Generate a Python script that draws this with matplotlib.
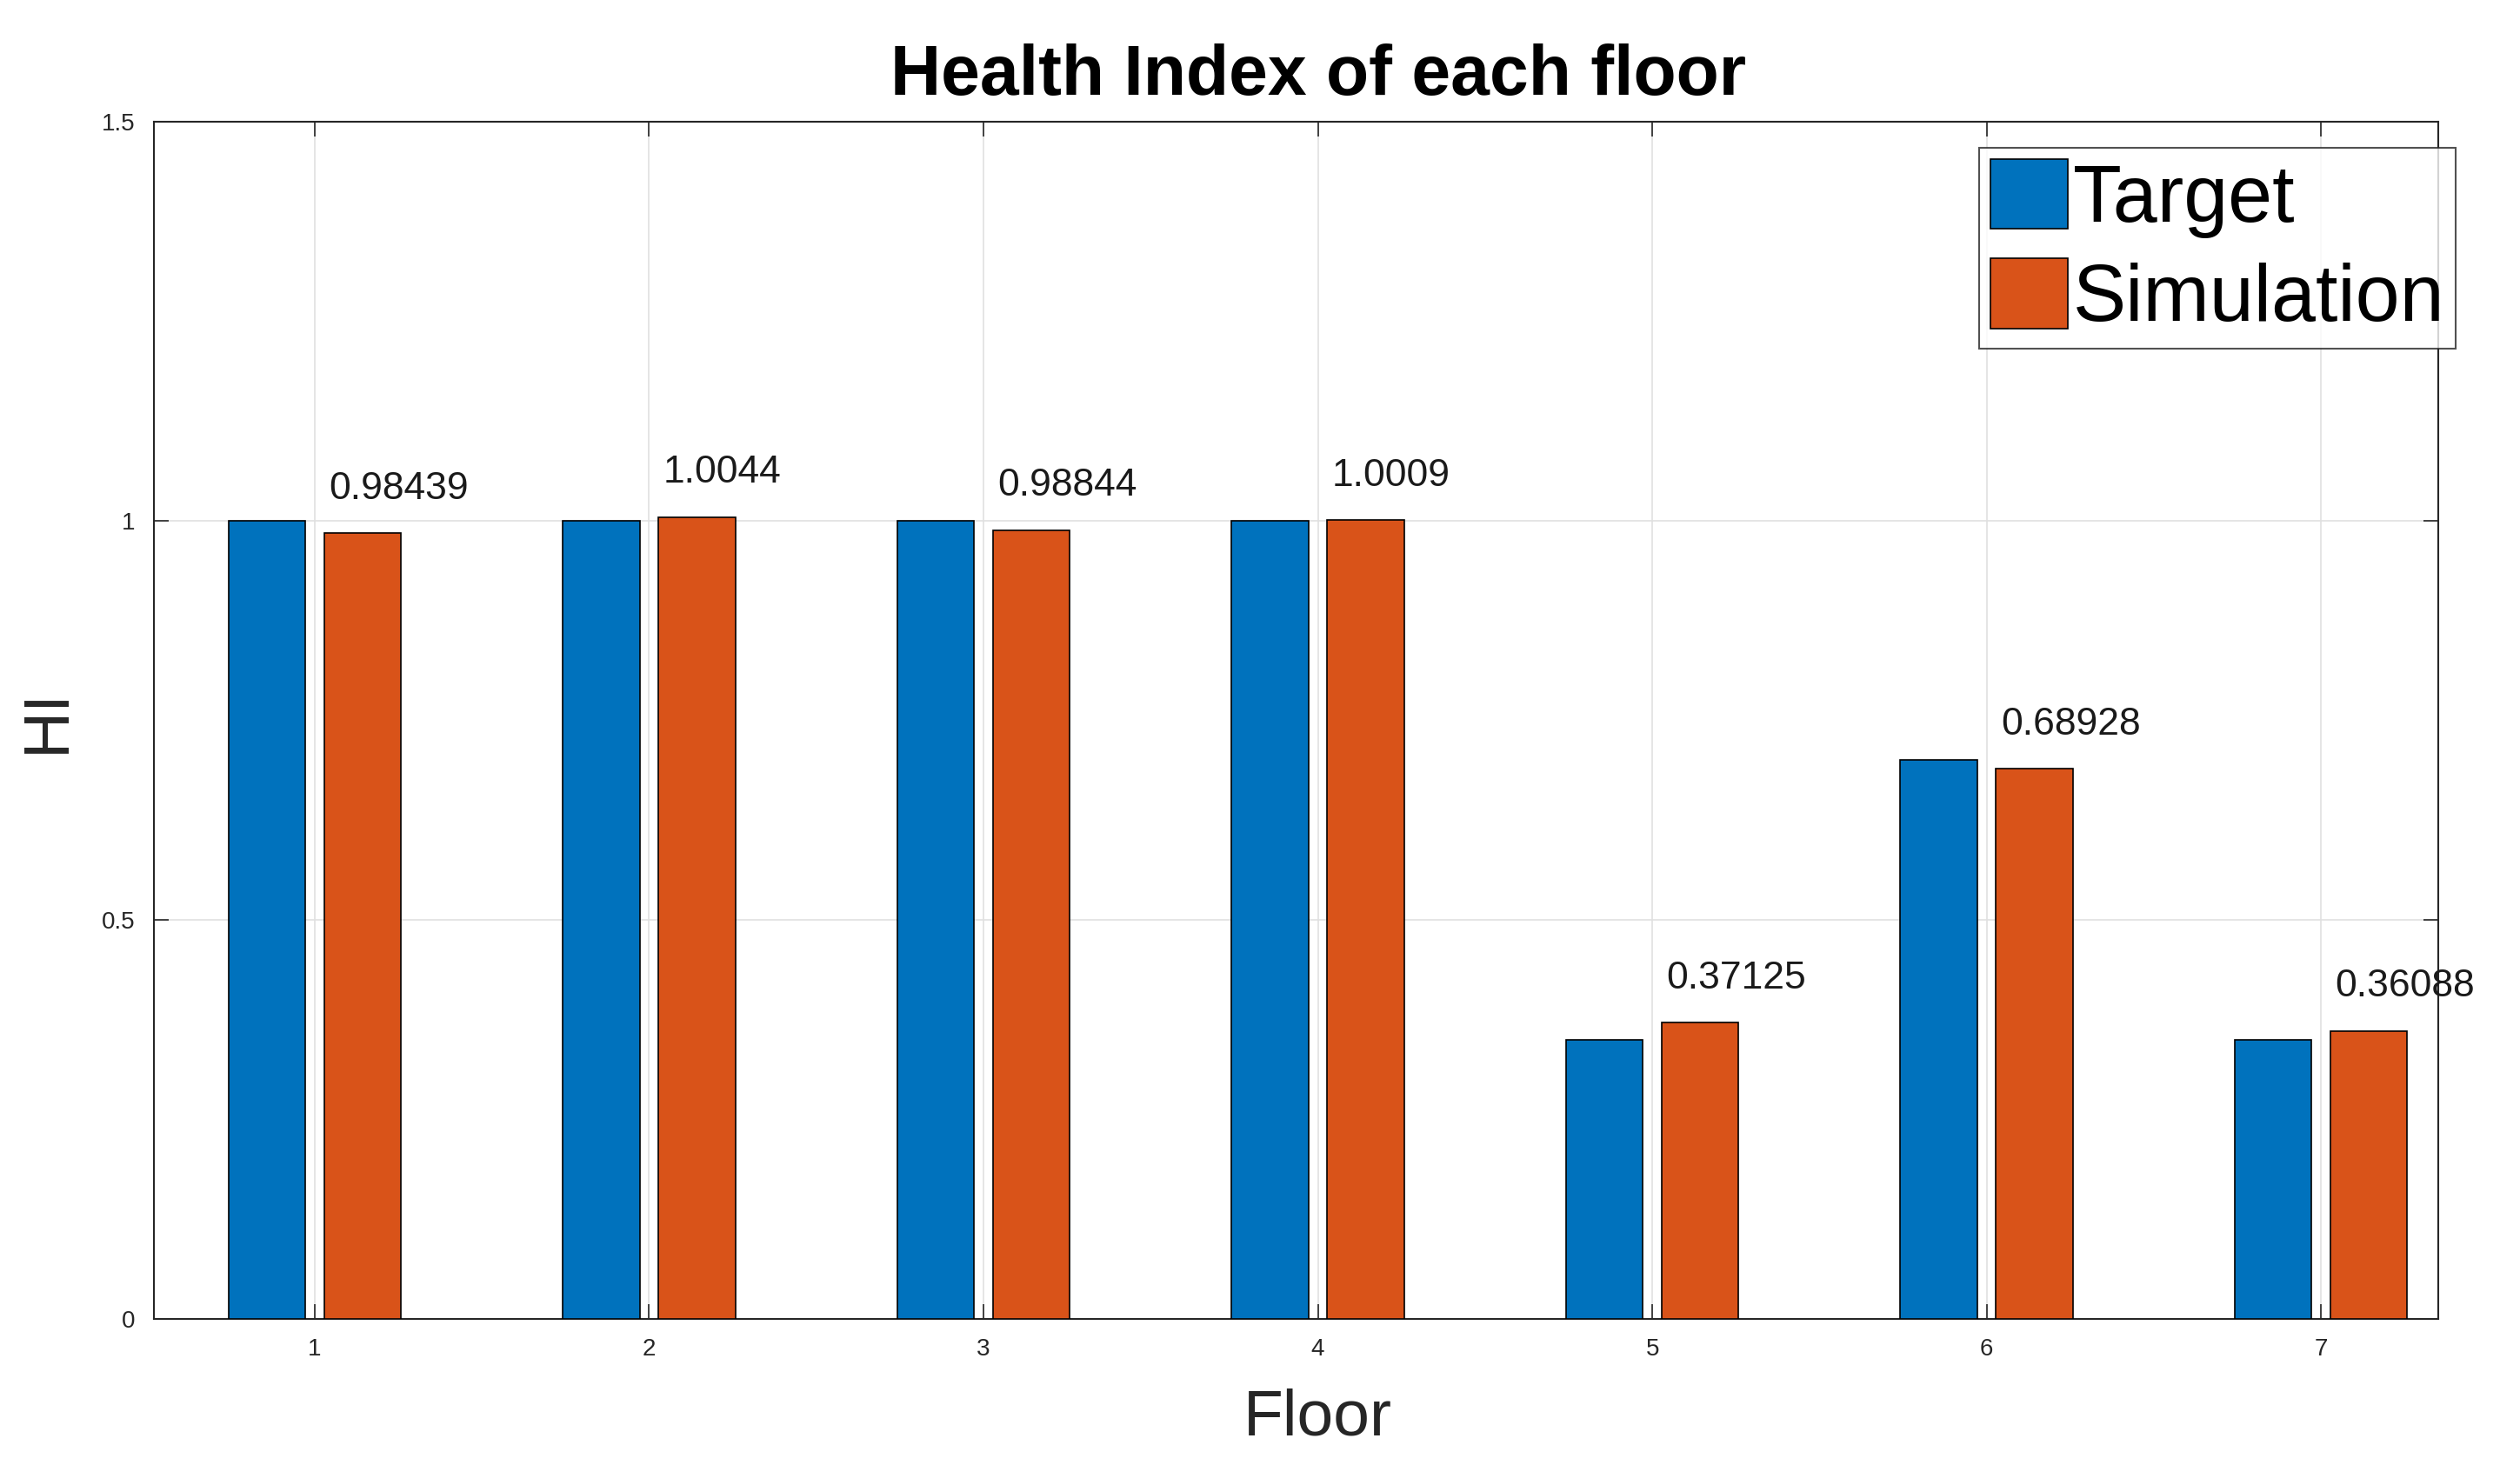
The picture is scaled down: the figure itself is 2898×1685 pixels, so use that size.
import matplotlib
matplotlib.use("Agg")
import matplotlib.pyplot as plt
import numpy as np

floors = [1, 2, 3, 4, 5, 6, 7]
target = [1.0, 1.0, 1.0, 1.0, 0.35, 0.70, 0.35]
simulation = [0.98439, 1.0044, 0.98844, 1.0009, 0.37125, 0.68928, 0.36088]
sim_labels = ["0.98439", "1.0044", "0.98844", "1.0009", "0.37125", "0.68928", "0.36088"]
yticks = [0, 0.5, 1, 1.5]
ytick_labels = ["0", "0.5", "1", "1.5"]

plt.rcParams['font.family'] = ['Liberation Sans', 'DejaVu Sans']

fig = plt.figure(figsize=(28.98, 16.85), dpi=100)
ax = fig.add_axes([0.0612, 0.0997, 0.9063, 0.8173])

x = np.array(floors, dtype=float)
w = 0.23
off = 0.143
b1 = ax.bar(x - off, target, w, color='#0072BD', edgecolor='black', linewidth=1.2, label='Target', zorder=3)
b2 = ax.bar(x + off, simulation, w, color='#D95319', edgecolor='black', linewidth=1.2, label='Simulation', zorder=3)

for xi, v, s in zip(x, simulation, sim_labels):
    ax.text(xi + 0.042, v + 0.043, s, ha='left', va='baseline', fontsize=32, color='#1a1a1a', zorder=4)

ax.set_xlim(0.52, 7.35)
ax.set_ylim(0, 1.5)
ax.set_xticks(floors)
ax.set_xticklabels([str(f) for f in floors])
ax.set_yticks(yticks)
ax.set_yticklabels(ytick_labels)
ax.tick_params(axis='both', direction='in', top=True, right=True, length=12, width=1.2,
               labelsize=20, labelcolor='#262626', color='#262626', pad=16)
ax.grid(True, color='#e0e0e0', linewidth=1.2, zorder=0)
ax.set_axisbelow(True)
for sp in ax.spines.values():
    sp.set_color('#262626')
    sp.set_linewidth(1.5)

fig.text(0.523, 0.948, 'Health Index of each floor', fontsize=58, fontweight='bold',
         ha='center', va='center')
ax.set_xlabel('Floor', fontsize=54, color='#262626')
ax.xaxis.set_label_coords((4 - 0.52) / (7.35 - 0.52), -0.058)
ax.set_ylabel('HI', fontsize=54, color='#262626', labelpad=20)

leg = fig.legend(handles=[b1, b2], labels=['Target', 'Simulation'], loc='upper right',
                 bbox_to_anchor=(0.9745, 0.899), fontsize=66, frameon=True, fancybox=False,
                 handlelength=0.97, handleheight=0.97, handletextpad=0.06, labelspacing=0.26,
                 borderpad=0.14, borderaxespad=0)
leg.get_frame().set_edgecolor('#262626')
leg.get_frame().set_linewidth(1.5)

fig.savefig('out.png', dpi=100, facecolor='white')
